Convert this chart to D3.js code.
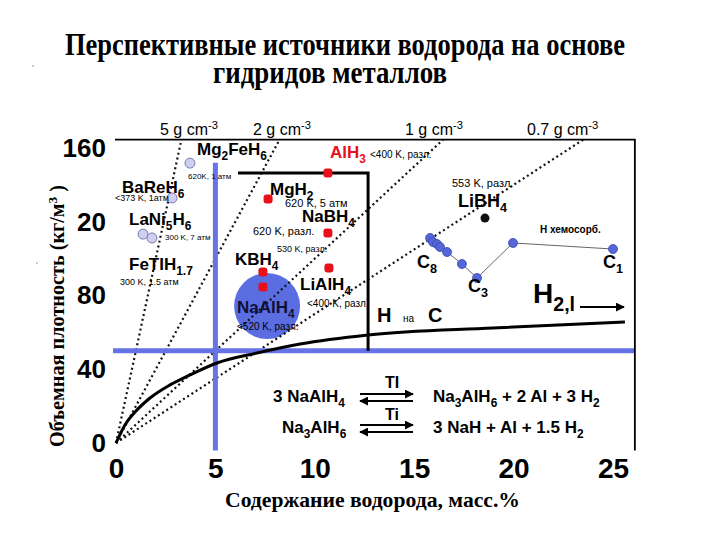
<!DOCTYPE html>
<html>
<head>
<meta charset="utf-8">
<script src="https://cdn.jsdelivr.net/npm/d3@7"></script>
<style>
  body { margin: 0; background: #fff; }
  svg { display: block; }
</style>
</head>
<body>
<div id="chart"></div>
<script>
// ticks
const xTicks = [0, 5, 10, 15, 20, 25]
const yTicks = [0, 40, 80, 120, 160]
const yTickLabels = ['0', '40', '80', '20', '160']

// lines of constant density, g/cm3 (kg H per m3 = density * 10 * wt%)
const densities = [5, 2, 1, 0.7]
const densityLabels = ['5 g cm', '2 g cm', '1 g cm', '0.7 g cm']

// black curve (wt% , kg/m3)
const curveWt = [0, 0.45, 0.96, 1.71, 2.72, 3.72, 5.08, 7.09, 9.26, 12.68, 18.96, 25.6]
const curveDens = [0, 9.8, 16.8, 24.4, 31.5, 36.9, 43.4, 48.8, 53.7, 58.6, 62.4, 65.6]

// complex hydrides (red)
const hydrideNames = ['AlH3', 'MgH2', 'NaBH4', 'KBH4', 'LiAlH4', 'NaAlH4']
const hydrideWt = [10.66, 7.65, 10.66, 7.39, 10.71, 7.39]
const hydrideDens = [146.4, 132.3, 113.9, 92.7, 94.9, 84.6]

// intermetallic hydrides (light circles)
const alloyNames = ['Mg2FeH6', 'BaReH6', 'LaNi5H6', 'LaNi5H6']
const alloyWt = [3.72, 2.82, 1.36, 1.81]
const alloyDens = [151.8, 132.9, 113.3, 111.2]

// H chemisorbed on carbon (blue points)
const carbonWt = [15.8, 15.95, 16.15, 16.3, 16.65, 17.4, 18.16, 19.97, 25.0]
const carbonDens = [111.2, 109.0, 107.9, 106.3, 103.6, 97.1, 89.5, 108.5, 105.2]

const libh4Wt = 18.56
const libh4Dens = 122.0
const naalh4DiscWt = 7.6
const naalh4DiscDens = 74.3

const targetWt = 5
const targetDens = 50
const boxWt = [6.14, 12.68]
const boxDens = 146.4

const frameTop = 164.5
const frameRight = 26.1

const width = 720
const height = 540

const svg = d3
  .select('#chart')
  .append('svg')
  .attr('width', width)
  .attr('height', height)
  .style('background', '#fff')

const x = d3.scaleLinear().domain([0, 25]).range([116, 613])
const y = d3.scaleLinear().domain([0, 160]).range([443, 148])

// text with {sub} and [sup] markup
function richText(g, str, opts) {
  const size = opts.size
  const t = g
    .append('text')
    .attr('x', opts.x)
    .attr('y', opts.y)
    .attr('font-family', opts.family || 'Arial, "Liberation Sans", sans-serif')
    .attr('font-size', size)
    .attr('font-weight', opts.bold ? 'bold' : 'normal')
    .attr('fill', opts.fill || '#000')
    .attr('text-anchor', opts.anchor || 'start')
  const parts = str.split(/(\{[^}]*\}|\[[^\]]*\])/).filter(s => s.length)
  let shift = 0
  parts.forEach(p => {
    let target = 0
    let txt = p
    let fs = size
    if (p[0] === '{') {
      target = size * 0.3
      txt = p.slice(1, -1)
      fs = size * 0.7
    } else if (p[0] === '[') {
      target = -size * 0.4
      txt = p.slice(1, -1)
      fs = size * 0.7
    }
    t.append('tspan')
      .attr('dy', target - shift)
      .attr('font-size', fs)
      .text(txt)
    shift = target
  })
  return t
}

// title
const titleFont = '"Liberation Serif", "Times New Roman", serif'
svg
  .append('text')
  .attr('transform', 'translate(65,55) scale(1,1.15)')
  .attr('font-family', titleFont)
  .attr('font-weight', 'bold')
  .attr('font-size', 27)
  .attr('textLength', 560)
  .attr('lengthAdjust', 'spacingAndGlyphs')
  .text('Перспективные источники водорода на основе')
svg
  .append('text')
  .attr('transform', 'translate(213,83) scale(1,1.15)')
  .attr('font-family', titleFont)
  .attr('font-weight', 'bold')
  .attr('font-size', 27)
  .attr('textLength', 234)
  .attr('lengthAdjust', 'spacingAndGlyphs')
  .text('гидридов металлов')

svg.append('circle').attr('cx', 33).attr('cy', 66).attr('r', 1).attr('fill', '#bbb')
svg.append('circle').attr('cx', 37).attr('cy', 263).attr('r', 1).attr('fill', '#bbb')

// NaAlH4 disc
svg
  .append('circle')
  .attr('cx', x(naalh4DiscWt))
  .attr('cy', y(naalh4DiscDens))
  .attr('r', 33)
  .attr('fill', '#5a6ee2')

// density lines from origin to frame top
svg
  .selectAll('.dens')
  .data(densities)
  .enter()
  .append('line')
  .attr('class', 'dens')
  .attr('x1', x(0))
  .attr('y1', y(0))
  .attr('x2', d => x(frameTop / (d * 10)))
  .attr('y2', y(frameTop))
  .attr('stroke', '#111')
  .attr('stroke-width', 2.2)
  .attr('stroke-dasharray', '2,3')

// blue target lines
svg
  .append('line')
  .attr('x1', x(targetWt))
  .attr('x2', x(targetWt))
  .attr('y1', y(152))
  .attr('y2', y(-4))
  .attr('stroke', '#6673e6')
  .attr('stroke-width', 5)
svg
  .append('line')
  .attr('x1', x(-0.15))
  .attr('x2', x(frameRight))
  .attr('y1', y(targetDens))
  .attr('y2', y(targetDens))
  .attr('stroke', '#6673e6')
  .attr('stroke-width', 5)

// frame (top and right only)
svg
  .append('path')
  .attr('d', `M${x(-0.05)},${y(frameTop)}H${x(frameRight)}V${y(-4)}`)
  .attr('fill', 'none')
  .attr('stroke', '#000')
  .attr('stroke-width', 1.8)

// box
svg
  .append('path')
  .attr('d', `M${x(boxWt[0])},${y(boxDens)}H${x(boxWt[1])}V${y(targetDens)}`)
  .attr('fill', 'none')
  .attr('stroke', '#000')
  .attr('stroke-width', 3)

// curve
const curveData = curveWt.map((d, i) => [d, curveDens[i]])
svg
  .append('path')
  .datum(curveData)
  .attr('d', d3.line().x(d => x(d[0])).y(d => y(d[1])).curve(d3.curveMonotoneX))
  .attr('fill', 'none')
  .attr('stroke', '#000')
  .attr('stroke-width', 3)

// carbon series
const carbonData = carbonWt.map((d, i) => [d, carbonDens[i]])
svg
  .append('path')
  .datum(carbonData)
  .attr('d', d3.line().x(d => x(d[0])).y(d => y(d[1])))
  .attr('fill', 'none')
  .attr('stroke', '#666')
  .attr('stroke-width', 1)
svg
  .selectAll('.carbon')
  .data(carbonData)
  .enter()
  .append('circle')
  .attr('class', 'carbon')
  .attr('cx', d => x(d[0]))
  .attr('cy', d => y(d[1]))
  .attr('r', 4.5)
  .attr('fill', '#5566d8')
  .attr('stroke', '#3a48b0')
  .attr('stroke-width', 0.8)

// alloys
svg
  .selectAll('.alloy')
  .data(alloyWt)
  .enter()
  .append('circle')
  .attr('class', 'alloy')
  .attr('cx', d => x(d))
  .attr('cy', (d, i) => y(alloyDens[i]))
  .attr('r', 5)
  .attr('fill', '#cfcff0')
  .attr('stroke', '#7c7cb4')
  .attr('stroke-width', 1)

// hydrides
svg
  .selectAll('.hydride')
  .data(hydrideWt)
  .enter()
  .append('rect')
  .attr('class', 'hydride')
  .attr('x', d => x(d) - 4.5)
  .attr('y', (d, i) => y(hydrideDens[i]) - 4.5)
  .attr('width', 9)
  .attr('height', 9)
  .attr('rx', 3)
  .attr('fill', '#e8101a')

// LiBH4
svg
  .append('circle')
  .attr('cx', x(libh4Wt))
  .attr('cy', y(libh4Dens))
  .attr('r', 4.5)
  .attr('fill', '#111')

// axes
const xAxis = d3
  .axisBottom(x)
  .tickValues(xTicks)
  .tickSize(0)
  .tickPadding(15)
const gx = svg
  .append('g')
  .attr('transform', `translate(0,${y(0)})`)
  .call(xAxis)
gx.select('.domain').remove()
gx.selectAll('text')
  .attr('font-family', 'Arial, "Liberation Sans", sans-serif')
  .attr('font-weight', 'bold')
  .attr('font-size', 28)
  .attr('fill', '#000')

const yAxis = d3
  .axisLeft(y)
  .tickValues(yTicks)
  .tickFormat((d, i) => yTickLabels[i])
  .tickSize(0)
  .tickPadding(10)
const gy = svg
  .append('g')
  .attr('transform', `translate(${x(0)},0)`)
  .call(yAxis)
gy.select('.domain').remove()
gy.selectAll('text')
  .attr('font-family', 'Arial, "Liberation Sans", sans-serif')
  .attr('font-weight', 'bold')
  .attr('font-size', 26)
  .attr('fill', '#000')

// axis titles
svg
  .append('text')
  .attr('x', 225)
  .attr('y', 507)
  .attr('font-family', '"Liberation Serif", "Times New Roman", serif')
  .attr('font-weight', 'bold')
  .attr('font-size', 22)
  .attr('textLength', 295)
  .attr('lengthAdjust', 'spacingAndGlyphs')
  .text('Содержание водорода, масс.%')

const yt = svg
  .append('text')
  .attr('transform', 'translate(64,447) rotate(-90)')
  .attr('font-family', '"Liberation Serif", "Times New Roman", serif')
  .attr('font-weight', 'bold')
  .attr('font-size', 20)
  .attr('textLength', 262)
  .attr('lengthAdjust', 'spacingAndGlyphs')
yt.append('tspan').text('Объемная плотность (кг/м')
yt.append('tspan').attr('dy', -7).attr('font-size', 13).text('3')
yt.append('tspan').attr('dy', 7).text(' )')

// density labels
const densLabelX = [160, 253, 405, 527]
densityLabels.forEach((d, i) => {
  richText(svg, d + '[-3]', { x: densLabelX[i], y: 135, size: 16 })
})

// compound labels
const labels = [
  ['Mg{2}FeH{6}', 197, 155, 17],
  ['BaReH{6}', 122, 193, 17],
  ['LaNi{5}H{6}', 129, 225, 17],
  ['FeTIH{1.7}', 129, 270, 17],
  ['MgH{2}', 270, 195, 17],
  ['NaBH{4}', 302, 222, 17],
  ['KBH{4}', 235, 265, 17],
  ['LiAlH{4}', 300, 290, 17],
  ['NaAlH{4}', 237, 313, 17],
  ['LiBH{4}', 458, 207, 18],
  ['C{8}', 417, 268, 18],
  ['C{3}', 468, 292, 18],
  ['C{1}', 603, 268, 18]
]
labels.forEach(l => richText(svg, l[0], { x: l[1], y: l[2], size: l[3], bold: true, fill: l[0] === 'NaAlH{4}' ? '#101030' : '#000' }))
richText(svg, 'AlH{3}', { x: 330, y: 158, size: 17, bold: true, fill: '#e8101a' })

// conditions
const notes = [
  ['620K, 1 атм', 188, 179, 8],
  ['<373 K, 1атм', 115, 201, 9],
  ['300 K, 7 атм', 165, 240, 8],
  ['300 K, 1.5 атм', 120, 285, 9],
  ['<400 K, разл.', 370, 158, 10],
  ['620 K, 5 атм', 285, 207, 11],
  ['620 K, разл.', 253, 235, 11],
  ['530 K, разл.', 277, 252, 9],
  ['<400 K, разл.', 307, 307, 10],
  ['<520 K, разл.', 237, 330, 10],
  ['553 K, разл.', 452, 187, 11]
]
notes.forEach(n => richText(svg, n[0], { x: n[1], y: n[2], size: n[3] }))
richText(svg, 'Н хемосорб.', { x: 540, y: 233, size: 10, bold: true })

// H on C
richText(svg, 'H', { x: 377, y: 322, size: 20, bold: true })
richText(svg, 'на', { x: 403, y: 322, size: 10 })
richText(svg, 'C', { x: 428, y: 322, size: 20, bold: true })

// liquid hydrogen
richText(svg, 'H{2,l}', { x: 533, y: 303, size: 28, bold: true })

const defs = svg.append('defs')
defs
  .append('marker')
  .attr('id', 'ah')
  .attr('viewBox', '0 0 10 10')
  .attr('refX', 9)
  .attr('refY', 5)
  .attr('markerWidth', 9)
  .attr('markerHeight', 9)
  .attr('markerUnits', 'userSpaceOnUse')
  .attr('orient', 'auto')
  .append('path')
  .attr('d', 'M0,0L10,5L0,10Z')
  .attr('fill', '#000')

svg
  .append('line')
  .attr('x1', 580)
  .attr('x2', 624)
  .attr('y1', 307)
  .attr('y2', 307)
  .attr('stroke', '#000')
  .attr('stroke-width', 2)
  .attr('marker-end', 'url(#ah)')

// reactions
richText(svg, '3 NaAlH{4}', { x: 273, y: 402, size: 17, bold: true })
richText(svg, 'Na{3}AlH{6}', { x: 282, y: 433, size: 17, bold: true })
richText(svg, 'Na{3}AlH{6} + 2 Al + 3 H{2}', { x: 433, y: 402, size: 17, bold: true })
richText(svg, '3 NaH + Al + 1.5 H{2}', { x: 433, y: 433, size: 17, bold: true })
richText(svg, 'TI', { x: 392, y: 388, size: 16, bold: true, anchor: 'middle' })
richText(svg, 'Ti', { x: 392, y: 420, size: 16, bold: true, anchor: 'middle' })

const arrowRows = [[394, 401], [425, 432]]
arrowRows.forEach(r => {
  svg
    .append('line')
    .attr('x1', 360)
    .attr('x2', 413)
    .attr('y1', r[0])
    .attr('y2', r[0])
    .attr('stroke', '#000')
    .attr('stroke-width', 2)
    .attr('marker-end', 'url(#ah)')
  svg
    .append('line')
    .attr('x1', 413)
    .attr('x2', 360)
    .attr('y1', r[1])
    .attr('y2', r[1])
    .attr('stroke', '#000')
    .attr('stroke-width', 2)
    .attr('marker-end', 'url(#ah)')
})
</script>
</body>
</html>
